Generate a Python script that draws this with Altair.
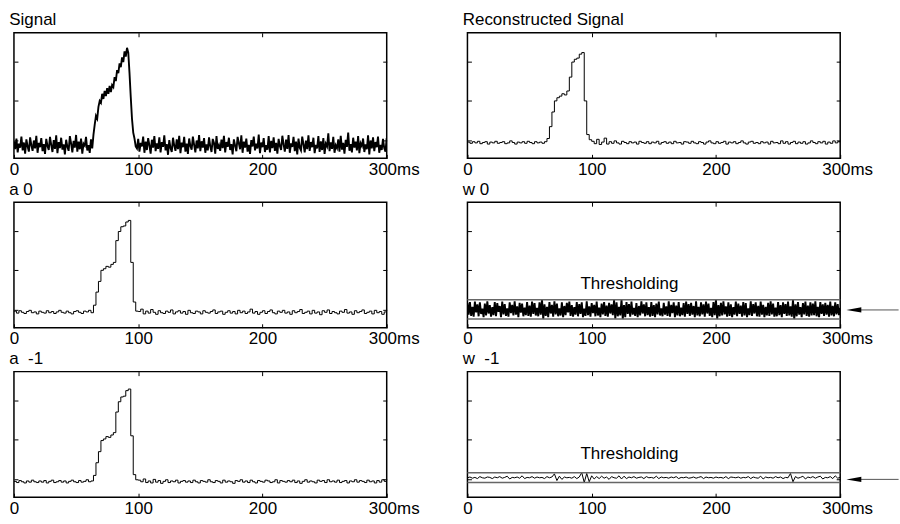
import altair as alt
import pandas as pd

FONT = "Liberation Sans"

# ---- data (values in hundredths of the panel unit) ----
# Signal, 1 ms sampling, t = 0..300
signal = [
    -2, -22, 5, -30, -8, -18, 10, -25, -5, -33,
    3, -15, -28, 8, -12, -26, 0, -20, 12, -31,
    -6, -17, 6, -27, -9, -34, 4, -14, -24, 9,
    -11, -29, 1, -21, 13, -32, -4, -19, 7, -23,
    -10, -35, 2, -16, -26, 11, -7, -30, -1, -18,
    14, -28, -3, -22, 5, -33, -8, -13, 9, -25,
    -12, -31, 3, -20,
    15, 40, 62, 55, 85, 100, 95, 118, 105, 125,
    112, 132, 118, 138, 122, 140, 135, 160, 150, 178,
    170, 195, 185, 210, 198, 225, 212, 234, 222, 170,
    110, 55, 20, 5, -15,
    -20, 4, -28, -6, -15, 10, -31, -3, -24, 6,
    -12, -33, 2, -18, 11, -27, -7, -21, 8, -30,
    -4, -16, 13, -25, -9, -36, 1, -19, -29, 7,
    -13, -26, 3, -22, 12, -32, -5, -17, 9, -28,
    -8, -34, 5, -14, -23, 10, -11, -30, 0, -20,
    14, -27, -2, -18, 6, -31, -10, -25, 8, -15,
    -29, 4, -6, -33, 11, -21, -12, -26, 2, -19,
    12, -30, -4, -16, 7, -24, -9, -35, 3, -13,
    -27, 9, -7, -22, 13, -31, -3, -18, 5, -28,
    -11, -34, 1, -15, 10, -25, -8, -20, 15, -32,
    -5, -17, 6, -29, -12, -23, 11, -30, -1, -19,
    8, -26, -6, -33, 4, -14, -24, 12, -10, -28,
    2, -21, 14, -31, -7, -16, 9, -27, -3, -35,
    5, -18, -25, 10, -9, -30, 0, -22, 13, -26,
    -4, -17, 7, -32, -11, -20, 11, -29, -2, -24,
    6, -34, -8, -15, 18, -27, -5, -21, 9, -31,
    -12, -19, 3, -28, 12, -23, -6, -33, 2, -16,
    20, -26, -9, -30, 7, -18, -3, -25, 11, -32,
    -7, -14, 5, -29, -10, -22, 13, -35, 0, -20,
    8, -27, -4, -17, 10, -31, -11, -24, 4, -19,
    -28, 6,
]

# Reconstructed signal, 2 ms sampling
recon = [
    -4, -7, -3, -6, -2, -8, -5, -3, -9, -4,
    -6, -2, -7, -5, -3, -8, -6, -1, -5, -9,
    -4, -6, -3, -7, -2, -5, -8, -3, -6, -4,
    -7, -3,
    5, 35, 72, 100, 108, 112, 118, 115, 125, 160,
    198, 205, 208, 218, 222, 100, 15, 2,
    -2, -8, 3, -10, -4, 6, -9, -3, -7, -1,
    -6, -9, -2, -5, -8, -3, -6, -4, -9, -2,
    -5, -7, -3, -8, -4, -6, -2, -9, -5, -3,
    -7, -4, -8, -2, -6, -5, -9, -3, -4, -7,
    -2, -6, -8, -3, -5, -9, -4, -1, -6, -8,
    -3, -7, -5, -2, -9, -4, -6, -3, -8, -5,
    -1, -6, -9, -4, -2, -7, -5, -8, -3, -6,
    -4, -9, -2, -6, -5, -8, -1, -7, -3, -9,
    -5, -2, -8, -4, -7, -3, -9, -6, -1, -5,
    -8, -3, -6, -2, -9, -4, -7, -1, -6, -3,
    -5,
]

# a 0, 2 ms sampling
a0 = [
    -3, -8, -2, -6, -9, -4, -1, -7, -5, -10,
    -3, -6, -8, -2, -7, -4, -9, -5, -1, -6,
    -8, -3, -7, -10, -4, -2, -6, -9, -3, -5,
    -1, -7,
    12, 45, 72, 100, 104, 110, 108, 115, 120, 175,
    198, 210, 212, 222, 226, 120, 20, -3,
    -4, 2, -10, -3, -8, 1, -6, -11, -2, -7,
    -9, -3, -6, 0, -10, -5, -2, -8, -4, -11,
    -1, -7, -9, -3, -5, -10, -2, -6, -8, -4,
    0, -9, -5, -3, -11, -6, -2, -8, -4, -10,
    -1, -7, -3, -9, -5, 2, -8, -4, -11, -6,
    -2, -9, -4, 0, -7, -10, -3, -6, -1, -8,
    -5, -11, -2, -7, -4, 1, -9, -6, -3, -10,
    -1, -8, -5, -12, -2, -6, 0, -9, -4, -7,
    -10, -3, -6, 1, -8, -5, -11, -2, -7, -4,
    0, -9, -6, -3, -10, -1, -7, -4, -11, -5,
    -2,
]

# a -1, 2 ms sampling
am1 = [
    -5, -8, -3, -6, -9, -4, -7, -2, -6, -8,
    -4, -7, -3, -9, -5, -2, -8, -6, -3, -7,
    -4, -9, -5, -2, -6, -8, -3, -7, -5, -1,
    -6, -4,
    10, 42, 70, 98, 102, 108, 106, 112, 118, 170,
    196, 208, 210, 224, 228, 110, 12, -1,
    -2, -6, 1, -8, -4, -9, 0, -7, -3, -10,
    -5, -1, -8, -4, -6, -2, -9, -5, -3, -7,
    -4, -8, -2, -6, -9, -3, -5, -7, -1, -6,
    -8, -3, -5, -9, -2, -7, -4, -6, -10, -3,
    -5, -1, -7, -4, -8, -2, -6, -9, -3, -5,
    -7, -2, -4, -8, -6, -1, -9, -3, -5, -7,
    -3, -6, -2, -8, -4, -10, -5, -1, -7, -4,
    -6, -9, -2, -5, -3, -8, -1, -6, -4, -7,
    -2, -8, -5, -3, -9, -4, -6, -1, -7, -3,
    -5, -8, -2, -6, -4, -9, -3, -7, -1, -5,
    -4,
]

# w 0, 1 ms sampling
w0 = [
    18, -12, 20, -15, 8, -17, 21, -6, 14, -16,
    19, -10, 3, -18, 16, -14, 22, -9, 12, -17,
    7, -13, 20, -16, 17, -5, 10, -18, 21, -11,
    15, -15, 4, -17, 19, -8, 13, -14, 22, -12,
    9, -18, 18, -7, 16, -16, 6, -13, 20, -15,
    11, -17, 21, -10, 17, -14, 5, -16, 19, -12,
    26, -23, 14, -15, 8, -18, 20, -9, 13, -17,
    22, -11, 16, -16, 4, -14, 19, -18, 10, -13,
    18, -6, 21, -15, 12, -17, 7, -12, 20, -16,
    15, -10, 19, -18, 3, -15, 22, -13, 9, -17,
    17, -8, 13, -16, 21, -14, 6, -18, 16, -11,
    20, -15, 11, -17, 18, -9, 14, -13, 25, -22,
    19, -16, 8, -14, 26, -23, 12, -18, 20, -10,
    15, -17, 21, -12, 5, -15, 17, -18, 10, -14,
    22, -9, 14, -16, 19, -13, 7, -17, 20, -15,
    12, -18, 16, -11, 21, -14, 4, -16, 18, -12,
    9, -15, 22, -17, 13, -8, 19, -18, 11, -14,
    20, -16, 6, -13, 17, -17, 21, -10, 15, -15,
    18, -12, 10, -18, 22, -14, 8, -16, 19, -11,
    14, -17, 21, -9, 16, -15, 5, -18, 20, -13,
    26, -23, 12, -16, 18, -14, 22, -11, 9, -17,
    19, -15, 14, -18, 7, -12, 21, -16, 16, -10,
    11, -17, 20, -14, 17, -18, 4, -13, 22, -15,
    15, -9, 19, -16, 10, -17, 21, -12, 13, -18,
    8, -14, 18, -15, 22, -11, 16, -17, 6, -16,
    20, -13, 12, -18, 19, -10, 15, -15, 21, -14,
    9, -17, 26, -23, 14, -16, 20, -12, 7, -18,
    17, -11, 21, -15, 11, -17, 19, -14, 16, -13,
    22, -16, 8, -18, 20, -10, 14, -15, 18, -12,
    13, -17, 21, -14, 10, -16, 19, -11, 15, -13,
    5,
]

# w -1, 2 ms sampling
wm1 = [
    4, 6, 3, 5, 2, 7, 4, 3, 6, 5,
    2, 6, 4, 7, 3, 5, 8, 1, 5, 4,
    6, 3, 9, 2, 5, 4, 7, 3, 6, 4,
    5, 2, 7, 4, 6, 14, -3, 8, 0, 6,
    4, 5, 3, 7, 2, 6, 17, -8, 15, -6,
    9, 1, 7, 2, 8, 3, 6, 0, 7, 4,
    3, 9, 1, 8, 2, 6, 4, 7, 3, 5,
    6, 2, 7, 4, 5, 3, 8, 2, 6, 4,
    5, 3, 6, 4, 7, 2, 5, 4, 6, 3,
    4, 6, 3, 5, 7, 2, 6, 4, 5, 3,
    6, 4, 5, 3, 7, 2, 6, 5, 4, 6,
    3, 5, 4, 7, 2, 6, 4, 3, 8, 1,
    6, 4, 5, 3, 7, 4, 6, 2, 5, 4,
    15, -6, 7, 3, 5, 8, 1, 6, 4, 7,
    3, 6, 8, 1, 5, 4, 7, 2, 9, 3,
    5,
]

w0_thresholds = [0.26, -0.23]
wm1_thresholds = [0.17, -0.08]
x_ticks = [0, 100, 200, 300]
y_ticks = [0, 1, 2]
YDOM = [-0.45, 2.72]
XDOM = [0, 300]
W, H = 374, 126


def make_panel(vals, step, title, interp, thresholds=None, sw=1.0):
    df = pd.DataFrame({"t": [i * step for i in range(len(vals))],
                       "v": [v / 100.0 for v in vals]})
    xs = alt.Scale(domain=XDOM, nice=False, zero=False)
    ys = alt.Scale(domain=YDOM, nice=False, zero=False)
    bottom = alt.Axis(orient="bottom", values=x_ticks, tickSize=4, offset=-4,
                      domain=False, grid=False, title=None, labelPadding=3,
                      labelFlush=False, labelOverlap=False,
                      labelExpr="datum.value == 300 ? '300ms' : datum.label",
                      labelOffset={"condition": {"test": "datum.value == 300", "value": 7}, "value": 0})
    top = alt.Axis(orient="top", values=[100, 200], tickSize=4, offset=-4,
                   labels=False, domain=False, grid=False, title=None)
    left = alt.Axis(orient="left", values=y_ticks, tickSize=4, offset=-4,
                    labels=False, domain=False, grid=False, title=None)
    right = alt.Axis(orient="right", values=y_ticks, tickSize=4, offset=-4,
                     labels=False, domain=False, grid=False, title=None)

    ghost = alt.Chart(df).mark_line(opacity=0).encode(
        x=alt.X("t:Q", scale=xs, axis=top),
        y=alt.Y("v:Q", scale=ys, axis=right),
    )
    line = alt.Chart(df).mark_line(color="black", strokeWidth=sw,
                                   interpolate=interp, clip=True).encode(
        x=alt.X("t:Q", scale=xs, axis=bottom),
        y=alt.Y("v:Q", scale=ys, axis=left),
    )
    layers = [ghost, line]
    if thresholds is not None:
        thr = pd.DataFrame({"v": thresholds})
        layers.append(alt.Chart(thr).mark_rule(color="#666666", strokeWidth=1.5).encode(
            y=alt.Y("v:Q", scale=ys, axis=None)))
        lab = pd.DataFrame({"t": [130.3], "v": [0.65], "s": ["Thresholding"]})
        layers.append(alt.Chart(lab).mark_text(font=FONT, fontSize=17, color="black",
                                               align="center", baseline="middle").encode(
            x=alt.X("t:Q", scale=xs, axis=None), y=alt.Y("v:Q", scale=ys, axis=None),
            text="s:N"))
        arr = pd.DataFrame({"t": [316], "t2": [347], "v": [0.0]})
        layers.append(alt.Chart(arr).mark_rule(color="#555555", strokeWidth=1).encode(
            x=alt.X("t:Q", scale=xs, axis=None), x2="t2:Q",
            y=alt.Y("v:Q", scale=ys, axis=None)))
        head = pd.DataFrame({"t": [311], "v": [0.0]})
        layers.append(alt.Chart(head).mark_point(
            shape="M -1 0 L 1 -0.35 L 1 0.35 Z", filled=True, size=225,
            color="black", opacity=1, strokeWidth=0).encode(
            x=alt.X("t:Q", scale=xs, axis=None), y=alt.Y("v:Q", scale=ys, axis=None)))
    return alt.layer(*layers).resolve_axis(x="independent", y="independent").properties(
        width=W, height=H,
        title=alt.TitleParams(title, anchor="start", fontSize=17, fontWeight="normal",
                              font=FONT, color="black", offset=3),
    )


p_sig = make_panel(signal, 1, "Signal", "linear", sw=1.9)
p_rec = make_panel(recon, 2, "Reconstructed Signal", "step-after")
p_a0 = make_panel(a0, 2, "\u00a0a 0", "step-after")
p_w0 = make_panel(w0, 1, "w 0", "linear", thresholds=w0_thresholds, sw=1.9)
p_am1 = make_panel(am1, 2, "\u00a0a\u00a0\u00a0-1", "step-after")
p_wm1 = make_panel(wm1, 2, "w\u00a0\u00a0-1", "linear", thresholds=wm1_thresholds)

chart = alt.concat(p_sig, p_rec, p_a0, p_w0, p_am1, p_wm1, columns=2,
                   spacing={"row": 44, "column": 81}, bounds="flush").properties(
    padding={"left": 8, "top": 9, "right": 0, "bottom": 0},
    background="white",
).configure_view(stroke="black", strokeWidth=1.5).configure_axis(
    tickColor="black", tickWidth=1, labelColor="black", labelFont=FONT, labelFontSize=17,
).configure_title(font=FONT, fontSize=17, color="black")

chart.save("out.html", embed_options={"renderer": "svg", "actions": False})
